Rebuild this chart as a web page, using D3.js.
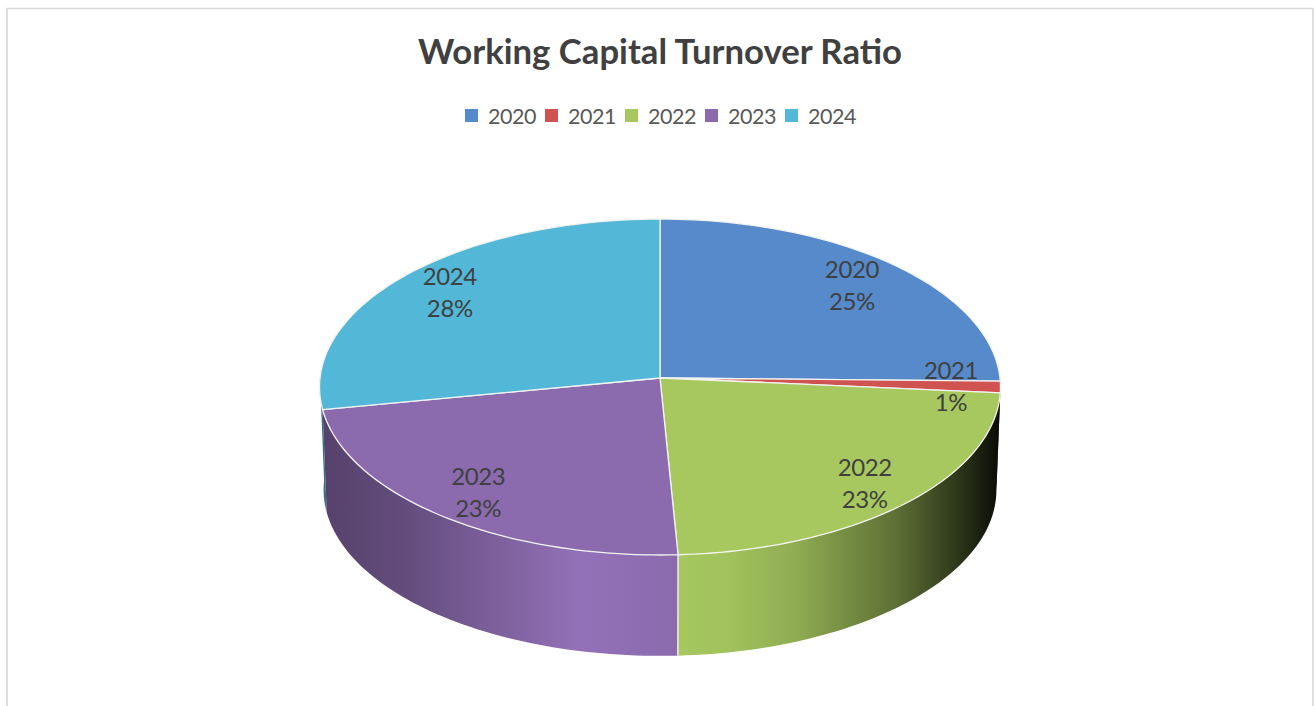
<!DOCTYPE html>
<html>
<head>
<meta charset="utf-8">
<script src="https://cdn.jsdelivr.net/npm/d3@7"></script>
<style>
  html, body { margin: 0; padding: 0; background: #fff; overflow: hidden; }
  svg { display: block; }
  text { font-family: Lato, "Open Sans", sans-serif; }
</style>
</head>
<body>
<svg id="chart" width="1315" height="706"></svg>
<script>
const chartTitle = "Working Capital Turnover Ratio";
const years = ["2020", "2021", "2022", "2023", "2024"];
const shares = [25.3, 1.1, 22.8, 22.8, 28];
const sliceColors = ["#568ACB", "#CF5351", "#A6C85F", "#8B6BAE", "#53B8D7"];
// How far out along each slice its label sits, as a fraction of the radius
const labelRadii = [0.815, 0.855, 0.84, 0.835, 0.825];
// Lighting across the cylinder wall, left to right: [offset, brightness]
const wallLight = [[0, 0.62], [0.12, 0.72], [0.38, 1.06], [0.52, 1.0], [0.6, 0.97], [0.7, 0.86], [0.85, 0.56], [0.94, 0.28], [1, 0.07]];

const svg = d3.select("#chart");
const W = 1315, H = 706;

// Frame around the chart area
svg.append("path")
  .attr("d", `M7,${H} V8.5 H1313 V${H}`)
  .attr("fill", "none")
  .attr("stroke", "#d9d9d9")
  .attr("stroke-width", 1.6);

// Title
svg.append("text")
  .attr("x", 660).attr("y", 64)
  .attr("text-anchor", "middle")
  .attr("font-size", 34.7).attr("font-weight", 700)
  .attr("fill", "#404040")
  .text(chartTitle);

// Legend
const legendX = d3.scalePoint().domain(years).range([465, 785]);
const legend = svg.append("g").selectAll("g").data(years).join("g")
  .attr("transform", d => `translate(${legendX(d)},0)`);
legend.append("rect")
  .attr("y", 109).attr("width", 13).attr("height", 13)
  .attr("fill", (d, i) => sliceColors[i]);
legend.append("text")
  .attr("x", 23).attr("y", 123.5)
  .attr("font-size", 21.5)
  .attr("letter-spacing", -0.5)
  .attr("fill", "#595959")
  .text(d => d);

// Perspective view of a disc: the near half looks deeper than the far half
const disc = { cx: 660, cy: 378, rx: 340, ry: 167.5, tilt: 0.0536 };
const baseScale = 0.988, baseCy = 481;

function project(angle, r = 1, scale = 1, cy = disc.cy) {
  const u = Math.sin(angle) * r, v = -Math.cos(angle) * r;
  const w = 1 - disc.tilt * v;
  return [disc.cx + scale * disc.rx * u / w, cy + scale * disc.ry * v / w];
}
const onTop = a => project(a);
const onBase = a => project(a, 1, baseScale, baseCy);

const arcSteps = (a0, a1) => d3.range(0, 61).map(i => a0 + (a1 - a0) * i / 60);
const outline = d3.line();

const slices = d3.pie().sort(null).value(d => d)(shares);

// Wall gradients, one per slice colour
const defs = svg.append("defs");
sliceColors.forEach((c, i) => {
  const g = defs.append("linearGradient")
    .attr("id", "wall" + i)
    .attr("gradientUnits", "userSpaceOnUse")
    .attr("x1", 325).attr("x2", 997).attr("y1", 0).attr("y2", 0);
  const base = d3.rgb(c);
  wallLight.forEach(([o, k]) => {
    g.append("stop").attr("offset", o)
      .attr("stop-color", d3.rgb(
        Math.min(255, base.r * k), Math.min(255, base.g * k), Math.min(255, base.b * k)).formatHex());
  });
});

// Cylinder wall: only the front half of the disc shows it
const front = [Math.PI / 2, Math.PI * 3 / 2];
const walls = svg.append("g");
const visible = slices
  .map((s, i) => ({ i, a0: Math.max(s.startAngle, front[0]), a1: Math.min(s.endAngle, front[1]) }))
  .filter(s => s.a1 > s.a0)
  .sort((a, b) => d3.descending(Math.abs((a.a0 + a.a1) / 2 - Math.PI), Math.abs((b.a0 + b.a1) / 2 - Math.PI)));

walls.selectAll("path").data(visible).join("path")
  .attr("d", s => {
    const steps = arcSteps(s.a0, s.a1);
    return outline(steps.map(onTop).concat(steps.slice().reverse().map(onBase))) + "Z";
  })
  .attr("fill", s => `url(#wall${s.i})`);

// Seam on the wall where two visible slices meet
slices.forEach(s => {
  if (s.startAngle > Math.PI * 0.75 && s.startAngle < Math.PI * 1.25) {
    svg.append("path")
      .attr("d", outline([onTop(s.startAngle), onBase(s.startAngle)]))
      .attr("stroke", "#f4f1f6").attr("stroke-width", 1.4).attr("fill", "none");
  }
});

// Top face
svg.append("g").selectAll("path").data(slices).join("path")
  .attr("d", s => outline([[disc.cx, disc.cy]].concat(arcSteps(s.startAngle, s.endAngle).map(onTop))) + "Z")
  .attr("fill", (s, i) => sliceColors[i])
  .attr("stroke", "#f3f3f0")
  .attr("stroke-width", 1.3)
  .attr("stroke-linejoin", "round");

// Data labels: year above percentage
const total = d3.sum(shares);
const labels = svg.append("g").selectAll("g").data(slices).join("g")
  .attr("transform", (s, i) => {
    const [x, y] = project((s.startAngle + s.endAngle) / 2, labelRadii[i]);
    return `translate(${x},${y})`;
  })
  .attr("text-anchor", "middle")
  .attr("font-size", 24)
  .attr("letter-spacing", -0.4)
  .attr("fill", "#404040");
labels.append("text").attr("y", -7).text((s, i) => years[i]);
labels.append("text").attr("y", 25).text(s => Math.round(s.value / total * 100) + "%");
</script>
</body>
</html>
